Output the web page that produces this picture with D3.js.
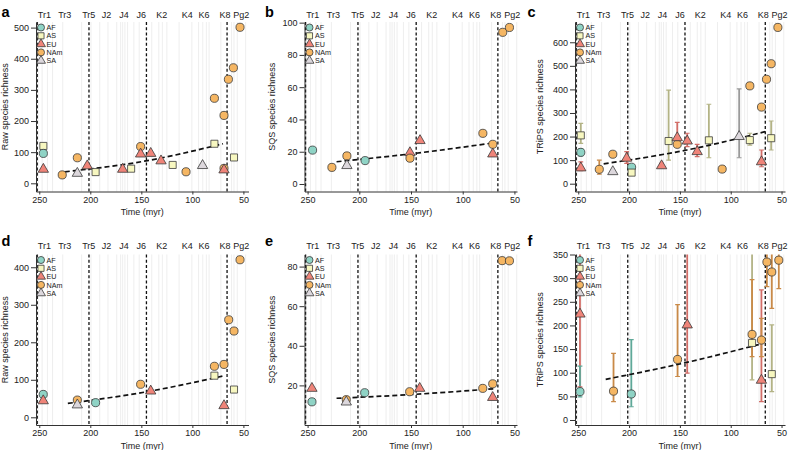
<!DOCTYPE html>
<html>
<head>
<meta charset="utf-8">
<script src="https://cdn.jsdelivr.net/npm/d3@7"></script>
<style>
  body { margin: 0; background: #fff; }
  svg text { font-family: "Liberation Sans", Arial, Helvetica, sans-serif; fill: #222; }
</style>
</head>
<body>
<svg id="chart" width="788" height="450"></svg>
<script>
// ---- data ----
const regions = ["AF", "AS", "EU", "NAm", "SA"];

// time bin labels and their bin midpoints (myr)
const binLabels = ["Tr1", "Tr3", "Tr5", "J2", "J4", "J6", "K2", "K4", "K6", "K8", "Pg2"];
const binMid = [245, 225, 201.5, 184, 167, 150, 130, 105, 88.5, 68, 52];

// mass extinction boundaries (dashed) and stage boundaries (light grey)
const extinctions = [252, 201.3, 145, 66];
const stageBounds = [251.2, 247.2, 242, 237, 227, 208.5, 199.3, 190.8, 182.7, 174.1, 170.3,
  168.3, 166.1, 163.5, 157.3, 152.1, 139.8, 132.9, 129.4, 125, 113, 100.5, 93.9, 89.8,
  86.3, 83.6, 72.1, 61.6, 59.2, 56, 47.8];

// a: raw richness
const rawA = [
  { r: "AS", t: 246, v: 120 }, { r: "AF", t: 246, v: 96 }, { r: "EU", t: 246, v: 45 },
  { r: "NAm", t: 227.5, v: 27 }, { r: "NAm", t: 212.7, v: 82 }, { r: "SA", t: 212.7, v: 32 },
  { r: "EU", t: 203, v: 56 }, { r: "AS", t: 194.8, v: 36 }, { r: "EU", t: 168.3, v: 45 },
  { r: "AS", t: 160, v: 47 }, { r: "NAm", t: 150.7, v: 118 }, { r: "EU", t: 150.7, v: 94 },
  { r: "EU", t: 140.8, v: 96 }, { r: "EU", t: 130.7, v: 72 }, { r: "AS", t: 119.3, v: 59 },
  { r: "NAm", t: 106.2, v: 37 }, { r: "SA", t: 90, v: 57 }, { r: "NAm", t: 78.4, v: 273 },
  { r: "AS", t: 78.4, v: 127 }, { r: "NAm", t: 69, v: 218 }, { r: "NAm", t: 69, v: 48 },
  { r: "EU", t: 69, v: 43 }, { r: "NAm", t: 64.7, v: 334 }, { r: "NAm", t: 59.8, v: 371 },
  { r: "AS", t: 59.2, v: 83 }, { r: "NAm", t: 53.3, v: 501 }
];
const trendA = [[225, 37], [147, 71], [70, 127]];

// b: SQS richness
const sqsB = [
  { r: "AF", t: 245.2, v: 21 }, { r: "NAm", t: 226.5, v: 10.3 }, { r: "NAm", t: 212, v: 17.4 },
  { r: "SA", t: 212, v: 11.4 }, { r: "AF", t: 194.4, v: 14.5 }, { r: "EU", t: 151, v: 19.4 },
  { r: "NAm", t: 151, v: 16 }, { r: "EU", t: 141.3, v: 26.9 }, { r: "NAm", t: 80.5, v: 31.4 },
  { r: "NAm", t: 70.9, v: 24.6 }, { r: "EU", t: 70.9, v: 18.6 }, { r: "NAm", t: 61.3, v: 94 },
  { r: "NAm", t: 54.8, v: 97 }
];
const trendB = [[222, 13.8], [146, 19], [69, 25.6]];

// c: TRiPS richness with 95% intervals
const tripsC = [
  { r: "AF", t: 247.5, v: 133, lo: 118, hi: 148 }, { r: "AS", t: 247.5, v: 205, lo: 171, hi: 256 },
  { r: "EU", t: 247.5, v: 67, lo: 55, hi: 93 }, { r: "NAm", t: 229.3, v: 61, lo: 40, hi: 100 },
  { r: "NAm", t: 216, v: 125 }, { r: "SA", t: 216, v: 51 },
  { r: "EU", t: 202.4, v: 108, lo: 86, hi: 136 }, { r: "AF", t: 197.5, v: 70 },
  { r: "AS", t: 197.5, v: 47 }, { r: "EU", t: 168, v: 76, lo: 68, hi: 86 },
  { r: "AS", t: 161.1, v: 181, lo: 100, hi: 397 }, { r: "NAm", t: 152.6, v: 167 },
  { r: "EU", t: 152.6, v: 195, lo: 160, hi: 260 }, { r: "EU", t: 142.8, v: 181, lo: 157, hi: 214 },
  { r: "EU", t: 133, v: 136, lo: 115, hi: 167 }, { r: "AS", t: 121.5, v: 184, lo: 110, hi: 337 },
  { r: "NAm", t: 108.4, v: 62 }, { r: "SA", t: 91.7, v: 200, lo: 110, hi: 402 },
  { r: "NAm", t: 81.2, v: 415 }, { r: "AS", t: 81.2, v: 185, lo: 164, hi: 214 },
  { r: "NAm", t: 69.7, v: 325 }, { r: "EU", t: 69.7, v: 93, lo: 72, hi: 143 },
  { r: "NAm", t: 64.8, v: 443 }, { r: "NAm", t: 60.2, v: 509 },
  { r: "AS", t: 60.2, v: 193, lo: 143, hi: 266 }, { r: "NAm", t: 53.6, v: 663 }
];
const trendC = [[225, 84], [143, 143], [66, 221]];

// d: raw richness
const rawD = [
  { r: "AF", t: 246.1, v: 61 }, { r: "EU", t: 246.1, v: 44 }, { r: "NAm", t: 212.7, v: 46 },
  { r: "SA", t: 212.7, v: 33 }, { r: "AF", t: 194.8, v: 39 }, { r: "NAm", t: 150.7, v: 88 },
  { r: "EU", t: 140.8, v: 70 }, { r: "NAm", t: 78.4, v: 136 }, { r: "AS", t: 78.4, v: 111 },
  { r: "NAm", t: 69, v: 141 }, { r: "EU", t: 69, v: 31 }, { r: "NAm", t: 64.4, v: 260 },
  { r: "NAm", t: 59.2, v: 230 }, { r: "AS", t: 59.2, v: 74 }, { r: "NAm", t: 53.3, v: 420 }
];
const trendD = [[222, 37], [145, 68], [70, 110]];

// e: SQS richness
const sqsE = [
  { r: "AF", t: 245.8, v: 11.7 }, { r: "EU", t: 245.8, v: 18.5 }, { r: "NAm", t: 212.6, v: 12.8 },
  { r: "SA", t: 212.6, v: 11.6 }, { r: "AF", t: 194.8, v: 16.3 }, { r: "NAm", t: 151.3, v: 16.8 },
  { r: "EU", t: 141.6, v: 18.5 }, { r: "NAm", t: 80.6, v: 18.5 }, { r: "NAm", t: 71, v: 20.8 },
  { r: "EU", t: 71, v: 13.9 }, { r: "NAm", t: 61.9, v: 83 }, { r: "NAm", t: 54.8, v: 82.9 }
];
const trendE = [[222, 13.5], [149, 15.4], [70, 18.3]];

// f: TRiPS richness with 95% intervals
const tripsF = [
  { r: "EU", t: 248.3, v: 224, lo: 70, hi: 420 }, { r: "AF", t: 248.3, v: 60, lo: 49, hi: 114 },
  { r: "NAm", t: 215.3, v: 61, lo: 39, hi: 141 }, { r: "AF", t: 197.8, v: 55, lo: 28, hi: 170 },
  { r: "NAm", t: 152.3, v: 128, lo: 92, hi: 244 }, { r: "EU", t: 142.8, v: 201, lo: 99, hi: 420 },
  { r: "AS", t: 79, v: 163, lo: 85, hi: 420 }, { r: "NAm", t: 79, v: 181, lo: 134, hi: 297 },
  { r: "EU", t: 69.8, v: 84, lo: 39, hi: 275 }, { r: "NAm", t: 69.8, v: 169, lo: 134, hi: 215 },
  { r: "NAm", t: 64.4, v: 334, lo: 282, hi: 420 }, { r: "NAm", t: 59.6, v: 313, lo: 236, hi: 420 },
  { r: "AS", t: 59.6, v: 97, lo: 60, hi: 201 }, { r: "NAm", t: 52.7, v: 338, lo: 278, hi: 420 }
];
const trendF = [[223, 86], [147, 120], [71.5, 160]];

// ---- styling ----
const fillCol = { AF: "#8fd3c5", AS: "#f7f7c0", EU: "#ef8479", NAm: "#f5b663", SA: "#dcd7dc" };
const barCol = { AF: "#5fa999", AS: "#b3b385", EU: "#d26d67", NAm: "#c98a48", SA: "#9a9a9a" };
const shapes = { AF: d3.symbolCircle, AS: d3.symbolSquare, EU: d3.symbolTriangle, NAm: d3.symbolCircle, SA: d3.symbolTriangle };
const sizes = { AF: 52, AS: 50, EU: 46, NAm: 52, SA: 46 };

const cols = [
  { x0: 36, x1: 248.5, dom: [253.2, 45], lx: 7.5, letX: 1.5 },
  { x0: 304.5, x1: 517, dom: [253, 47.5], lx: 275, letX: 265 },
  { x0: 575, x1: 785, dom: [253.2, 46.6], lx: 543, letX: 527.5 }
];
const rows = [
  { y0: 22, y1: 191.5, labY: 18.2, letY: 16.5 },
  { y0: 254.5, y1: 425, labY: 249, letY: 246 }
];

const panels = [
  { id: "a", c: 0, r: 0, ylab: "Raw species richness", ydom: [-26.3, 518], ticks: [0, 100, 200, 300, 400, 500], pts: rawA, trend: trendA },
  { id: "b", c: 1, r: 0, ylab: "SQS species richness", ydom: [-4.65, 100.4], ticks: [0, 20, 40, 60, 80, 100], pts: sqsB, trend: trendB },
  { id: "c", c: 2, r: 0, ylab: "TRiPS species richness", ydom: [-33.1, 686], ticks: [0, 100, 200, 300, 400, 500, 600], pts: tripsC, trend: trendC },
  { id: "d", c: 0, r: 1, ylab: "Raw species richness", ydom: [-20.5, 434], ticks: [0, 100, 200, 300, 400], pts: rawD, trend: trendD },
  { id: "e", c: 1, r: 1, ylab: "SQS species richness", ydom: [0, 86.1], ticks: [20, 40, 60, 80], pts: sqsE, trend: trendE },
  { id: "f", c: 2, r: 1, ylab: "TRiPS species richness", ydom: [-10.6, 350], ticks: [0, 50, 100, 150, 200, 250, 300, 350], pts: tripsF, trend: trendF }
];

const svg = d3.select("#chart");

panels.forEach(p => {
  const col = cols[p.c], row = rows[p.r];
  const x = d3.scaleLinear().domain(col.dom).range([col.x0, col.x1]);
  const y = d3.scaleLinear().domain(p.ydom).range([row.y1, row.y0]);
  const g = svg.append("g");

  svg.append("clipPath").attr("id", "clip-" + p.id)
    .append("rect").attr("x", col.x0).attr("y", row.y0)
    .attr("width", col.x1 - col.x0).attr("height", row.y1 - row.y0);

  // stage boundaries
  g.selectAll(".stage").data(stageBounds).enter().append("line")
    .attr("x1", d => x(d)).attr("x2", d => x(d))
    .attr("y1", row.y0).attr("y2", row.y1)
    .attr("stroke", "#e6e6e6").attr("stroke-width", 0.7);

  // extinction boundaries
  g.selectAll(".ext").data(extinctions).enter().append("line")
    .attr("x1", d => x(d)).attr("x2", d => x(d))
    .attr("y1", row.y0).attr("y2", row.y1)
    .attr("stroke", "#111").attr("stroke-width", 1.3)
    .attr("stroke-dasharray", "3,2.2");

  // bin labels on top
  g.selectAll(".bin").data(binLabels).enter().append("text")
    .attr("x", (d, i) => x(binMid[i])).attr("y", row.labY)
    .attr("text-anchor", "middle").attr("font-size", 9)
    .text(d => d);

  // axes
  const yAxis = d3.axisLeft(y).tickValues(p.ticks).tickSize(5).tickPadding(2).tickSizeOuter(0);
  const ya = g.append("g").attr("transform", `translate(${col.x0},0)`).call(yAxis);
  const xAxis = d3.axisBottom(x).tickValues([250, 200, 150, 100, 50]).tickSize(3).tickPadding(2).tickSizeOuter(0);
  const xa = g.append("g").attr("transform", `translate(0,${row.y1})`).call(xAxis);
  [ya, xa].forEach(a => {
    a.selectAll("path, line").attr("stroke", "#333").attr("stroke-width", 1);
    a.selectAll("text").attr("font-size", 9).attr("fill", "#222")
      .style("font-family", "'Liberation Sans', Arial, sans-serif");
  });

  g.append("text")
    .attr("transform", `translate(${col.lx},${(row.y0 + row.y1) / 2}) rotate(-90)`)
    .attr("text-anchor", "middle").attr("font-size", 9)
    .text(p.ylab);
  g.append("text")
    .attr("x", (col.x0 + col.x1) / 2).attr("y", row.y1 + 23.5)
    .attr("text-anchor", "middle").attr("font-size", 9)
    .text("Time (myr)");
  svg.append("text")
    .attr("x", col.letX).attr("y", row.letY)
    .attr("font-size", 14.5).attr("font-weight", "bold")
    .style("fill", "#000")
    .text(p.id);

  const plot = g.append("g").attr("clip-path", `url(#clip-${p.id})`);

  // error bars
  const bars = p.pts.filter(d => d.lo != null);
  plot.selectAll(".bar").data(bars).enter().append("line")
    .attr("x1", d => x(d.t)).attr("x2", d => x(d.t))
    .attr("y1", d => y(d.lo)).attr("y2", d => y(d.hi))
    .attr("stroke", d => barCol[d.r]).attr("stroke-width", 1.8);
  ["lo", "hi"].forEach(k => {
    plot.selectAll(".cap" + k).data(bars).enter().append("line")
      .attr("x1", d => x(d.t) - 2.4).attr("x2", d => x(d.t) + 2.4)
      .attr("y1", d => y(d[k])).attr("y2", d => y(d[k]))
      .attr("stroke", d => barCol[d.r]).attr("stroke-width", 1.2);
  });

  // trend
  plot.append("path")
    .datum(p.trend)
    .attr("d", d3.line().x(d => x(d[0])).y(d => y(d[1])).curve(d3.curveNatural))
    .attr("fill", "none").attr("stroke", "#111").attr("stroke-width", 1.7)
    .attr("stroke-dasharray", "5,3");

  // points
  plot.selectAll(".pt").data(p.pts).enter().append("path")
    .attr("transform", d => `translate(${x(d.t)},${y(d.v)})`)
    .attr("d", d => d3.symbol().type(shapes[d.r]).size(sizes[d.r])())
    .attr("fill", d => fillCol[d.r]).attr("stroke", "#3a3a3a").attr("stroke-width", 0.8);

  // legend (tightly stacked, as in the original)
  const leg = g.append("g");
  regions.forEach((reg, i) => {
    const ly = row.y0 + 5.5 + i * 8.3;
    leg.append("path")
      .attr("transform", `translate(${col.x0 + 5},${ly})`)
      .attr("d", d3.symbol().type(shapes[reg]).size(sizes[reg] * 0.75)())
      .attr("fill", fillCol[reg]).attr("stroke", "#3a3a3a").attr("stroke-width", 0.8);
    leg.append("text")
      .attr("x", col.x0 + 10.5).attr("y", ly + 2.6)
      .attr("font-size", 7.2).text(reg);
  });
});
</script>
</body>
</html>
